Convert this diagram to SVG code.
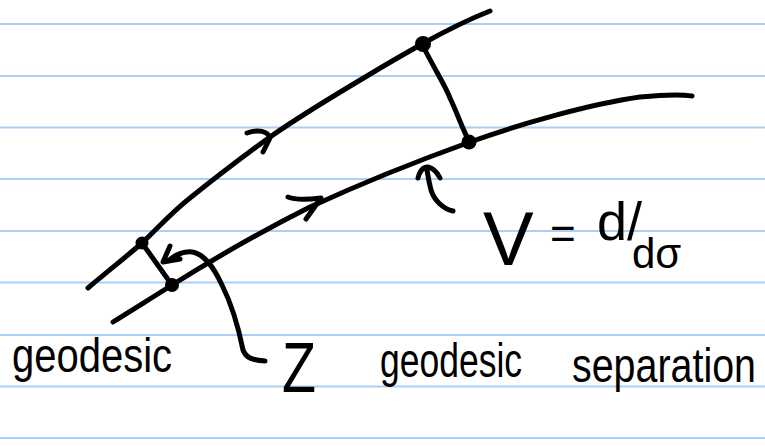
<svg xmlns="http://www.w3.org/2000/svg" width="765" height="446" viewBox="0 0 765 446">
<style>
.rule{stroke:#a9d0f7;stroke-width:2.2;fill:none}
.ink{stroke:#000;stroke-width:5;fill:none;stroke-linecap:round;stroke-linejoin:round}
.dot{fill:#000}
.hw{font-family:"Liberation Sans",Arial,sans-serif;fill:#000}
</style>
<rect width="765" height="446" fill="#fff"/>
<g id="rules">
<line class="rule" x1="0" y1="24" x2="765" y2="24"/>
<line class="rule" x1="0" y1="76" x2="765" y2="76"/>
<line class="rule" x1="0" y1="127.5" x2="765" y2="127.5"/>
<line class="rule" x1="0" y1="179" x2="765" y2="179"/>
<line class="rule" x1="0" y1="231" x2="765" y2="231"/>
<line class="rule" x1="0" y1="282.5" x2="765" y2="282.5"/>
<line class="rule" x1="0" y1="335" x2="765" y2="335"/>
<line class="rule" x1="0" y1="386.5" x2="765" y2="386.5"/>
<line class="rule" x1="0" y1="438" x2="765" y2="438"/>
</g>
<g id="connectors">
<path id="upper-geodesic" class="ink" d="M88,288 C108,271 126,257 142,243 C158,228 172,212 190,198 C215,178 245,155 270,137 C300,116 335,95 367,76 C390,62 408,52 422,44 C440,34 462,22 490,11"/>
<path id="lower-geodesic" class="ink" d="M113,322 C135,308 155,296 172,285 C220,255 260,232 310,207 C360,184 420,160 470,142 C520,124 590,104 640,97 C660,95 680,94 692,96"/>
<path id="upper-arrow" class="ink" d="M247,133 C258,129 268,131 270,138 L263,152"/>
<path id="lower-arrow" class="ink" d="M288,197 C295,200 305,200 321,198 L306,219"/>
<path id="sep-right" class="ink" d="M423,46 C435,70 445,85 450,98 C458,115 462,128 469,141"/>
<path id="sep-left" class="ink" d="M142,243 L172,285"/>
<path id="z-arrow" class="ink" d="M265,361 C252,360 246,358 243,350 C238,325 232,305 222,285 C214,268 205,254 192,252 C182,251 175,255 168,261 M170,246 L163,262 L180,259"/>
<path id="v-arrow" class="ink" d="M453,211 C443,209 434,200 431,190 C429,182 428,176 427,170 M418,178 C420,170 423,167 428,167 C433,168 437,172 440,178"/>
</g>
<g id="node-upper-left"><circle cx="142" cy="243" r="6.5" class="dot"/></g>
<g id="node-lower-left"><circle cx="172" cy="285" r="7" class="dot"/></g>
<g id="node-upper-right"><circle cx="423" cy="44" r="8" class="dot"/></g>
<g id="node-lower-right"><circle cx="469" cy="142" r="7.5" class="dot"/></g>
<g id="labels">
<text class="hw" x="12" y="372" font-size="48" textLength="160" lengthAdjust="spacingAndGlyphs">geodesic</text>
<text class="hw" x="282" y="392" font-size="70" textLength="34" lengthAdjust="spacingAndGlyphs">Z</text>
<text class="hw" x="380" y="377" font-size="48" textLength="142" lengthAdjust="spacingAndGlyphs">geodesic</text>
<text class="hw" transform="translate(572,382) scale(1,1.2)" x="0" y="0" font-size="40" textLength="184" lengthAdjust="spacingAndGlyphs">separation</text>
<text class="hw"><tspan x="483" y="265" font-size="76">V</tspan><tspan x="550" y="249" font-size="44">=</tspan><tspan x="597" y="240" font-size="54">d/</tspan><tspan x="632" y="268" font-size="42">dσ</tspan></text>
</g>
</svg>
